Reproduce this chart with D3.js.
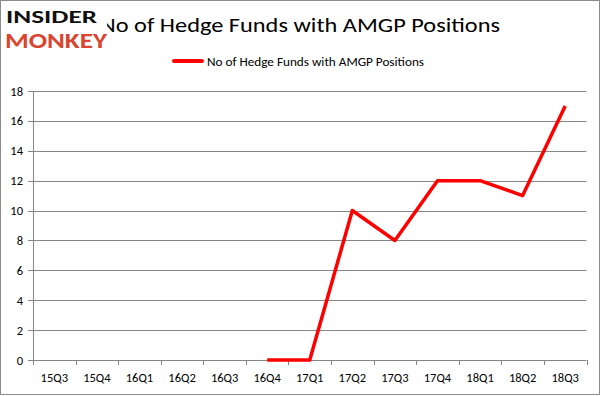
<!DOCTYPE html>
<html>
<head>
<meta charset="utf-8">
<script src="https://cdn.jsdelivr.net/npm/d3@7"></script>
<style>
  body { margin: 0; background: #fff; }
  svg text { font-family: Carlito, Calibri, "Open Sans", sans-serif; }
</style>
</head>
<body>
<div id="chart"></div>
<script>
const quarters = ['15Q3', '15Q4', '16Q1', '16Q2', '16Q3', '16Q4', '17Q1', '17Q2', '17Q3', '17Q4', '18Q1', '18Q2', '18Q3']
const fundCounts = [null, null, null, null, null, 0, 0, 10, 8, 12, 12, 11, 17]
const yTicks = [0, 2, 4, 6, 8, 10, 12, 14, 16, 18]
const seriesName = 'No of Hedge Funds with AMGP Positions'

const width = 601
const height = 396
const plot = { left: 33, right: 586.5, top: 91, bottom: 360 }

const svg = d3.select('#chart').append('svg')
  .attr('width', width)
  .attr('height', height)

svg.append('rect')
  .attr('x', 0.5).attr('y', 0.5)
  .attr('width', width - 2).attr('height', height - 2)
  .attr('fill', '#fff')
  .attr('stroke', '#8c8c8c')

const x = d3.scaleBand().domain(quarters).range([plot.left, plot.right])
const y = d3.scaleLinear().domain([0, 18]).range([plot.bottom, plot.top])

// grid
svg.append('g')
  .selectAll('line')
  .data(yTicks)
  .join('line')
  .attr('x1', plot.left - 5)
  .attr('x2', plot.right)
  .attr('y1', d => Math.round(y(d)) + 0.5)
  .attr('y2', d => Math.round(y(d)) + 0.5)
  .attr('stroke', '#868686')

// y axis labels
svg.append('g')
  .selectAll('text')
  .data(yTicks)
  .join('text')
  .attr('x', plot.left - 10)
  .attr('y', d => y(d) + 4.5)
  .attr('text-anchor', 'end')
  .attr('font-size', 12.5)
  .attr('fill', '#000')
  .text(d => d)

svg.append('line')
  .attr('x1', plot.left + 0.5).attr('x2', plot.left + 0.5)
  .attr('y1', plot.top).attr('y2', plot.bottom)
  .attr('stroke', '#868686')

// x ticks at band edges
const edges = quarters.map(q => x(q)).concat([plot.right])
svg.append('g')
  .selectAll('line')
  .data(edges)
  .join('line')
  .attr('x1', d => Math.round(d) + 0.5)
  .attr('x2', d => Math.round(d) + 0.5)
  .attr('y1', plot.bottom)
  .attr('y2', plot.bottom + 5)
  .attr('stroke', '#868686')

svg.append('g')
  .selectAll('text')
  .data(quarters)
  .join('text')
  .attr('x', d => x(d) + x.bandwidth() / 2)
  .attr('y', plot.bottom + 22)
  .attr('text-anchor', 'middle')
  .attr('font-size', 12.5)
  .attr('fill', '#000')
  .text(d => d)

// line
const line = d3.line()
  .defined(d => d[1] !== null)
  .x(d => x(d[0]) + x.bandwidth() / 2)
  .y(d => y(d[1]))

svg.append('path')
  .datum(quarters.map((q, i) => [q, fundCounts[i]]))
  .attr('d', line)
  .attr('fill', 'none')
  .attr('stroke', '#ff0000')
  .attr('stroke-width', 3.5)
  .attr('stroke-linejoin', 'round')

// legend
svg.append('line')
  .attr('x1', 174).attr('x2', 202)
  .attr('y1', 61).attr('y2', 61)
  .attr('stroke', '#ff0000')
  .attr('stroke-width', 4)
  .attr('stroke-linecap', 'round')
svg.append('text')
  .attr('x', 207).attr('y', 65.5)
  .attr('font-size', 13)
  .attr('textLength', 217)
  .attr('lengthAdjust', 'spacingAndGlyphs')
  .attr('fill', '#000')
  .text(seriesName)

// title
svg.append('text')
  .attr('x', 100).attr('y', 32)
  .attr('font-size', 21)
  .attr('textLength', 400)
  .attr('lengthAdjust', 'spacingAndGlyphs')
  .attr('fill', '#000')
  .text(seriesName)

// logo
const logo = svg.append('g')
logo.append('rect')
  .attr('x', 4).attr('y', 6).attr('width', 103).attr('height', 46)
  .attr('fill', '#fff')
logo.append('text')
  .attr('x', 6).attr('y', 23)
  .attr('font-family', '"DejaVu Sans", sans-serif')
  .attr('font-weight', 'bold')
  .attr('font-size', 19)
  .attr('textLength', 91)
  .attr('lengthAdjust', 'spacingAndGlyphs')
  .attr('fill', '#111')
  .text('INSIDER')
logo.append('text')
  .attr('x', 5).attr('y', 48)
  .attr('font-family', '"DejaVu Sans", sans-serif')
  .attr('font-weight', 'bold')
  .attr('font-size', 23)
  .attr('textLength', 102)
  .attr('lengthAdjust', 'spacingAndGlyphs')
  .attr('fill', '#d9452f')
  .text('MONKEY')
</script>
</body>
</html>
